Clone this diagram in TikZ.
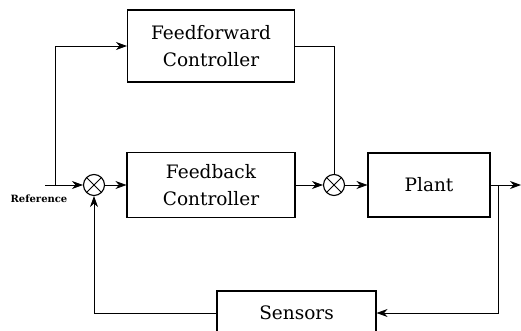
\documentclass[tikz,border=0pt]{standalone}
\usepackage{fontspec}
\newfontfamily\blockfont{DejaVu Serif}
\usetikzlibrary{arrows.meta,positioning}

\begin{document}
\begin{tikzpicture}[node distance=100pt,on grid,line width=0.8pt]
	\tikzset{arr/.style={-{Stealth[length=11pt,width=8pt,inset=3.5pt]}},
	  block/.style={draw,line width=1.1pt,align=center,
	    font=\blockfont\fontsize{18.5}{27.5}\selectfont},
	  sum/.style={draw,circle,line width=1.1pt,minimum size=21pt,inner sep=0pt,
	    path picture={\draw[line width=0.8pt]
	      (path picture bounding box.south west) -- (path picture bounding box.north east)
	      (path picture bounding box.north west) -- (path picture bounding box.south east);}}}
	\clip (0,0) rectangle (521pt,-331pt);

	\node[sum]   (s_1)  at (94pt,-185pt)  {};
	\node[block,minimum width=168pt,minimum height=65pt] (fb) [right=117pt of s_1] {Feedback\\Controller};
	\node[sum]   (s_2)  [right=123pt of fb] {};
	\node[block,minimum width=122pt,minimum height=64pt] (plant) [right=95pt of s_2] {Plant};
	\node[block,minimum width=167pt,minimum height=72pt] (ff) [above=139pt of fb] {Feedforward\\Controller};
	\node[block,minimum width=159pt,minimum height=44pt] (sens) at (296.5pt,-313pt) {Sensors};

	\coordinate (ref) at (45pt,-185pt);
	\coordinate (split) at (55pt,-185pt);
	\coordinate (out) at (521pt,-185pt);
	\coordinate (tap) at (498pt,-185pt);
	\node[font=\blockfont\bfseries\fontsize{10}{12}\selectfont] (reflabel) at (39pt,-199pt) {Reference};

	% forward path
	\draw[arr] (ref) -- (s_1);
	\draw[arr] (s_1) -- (fb);
	\draw[arr] (fb) -- (s_2);
	\draw[arr] (s_2) -- (plant);
	\draw[arr] (plant) -- (out);
	% feedforward branch
	\draw[arr] (split) |- (ff);
	\draw (ff) -| (s_2);
	% feedback loop
	\draw[arr] (tap) |- (sens);
	\draw[arr] (sens) -| (s_1);
\end{tikzpicture}
\end{document}
